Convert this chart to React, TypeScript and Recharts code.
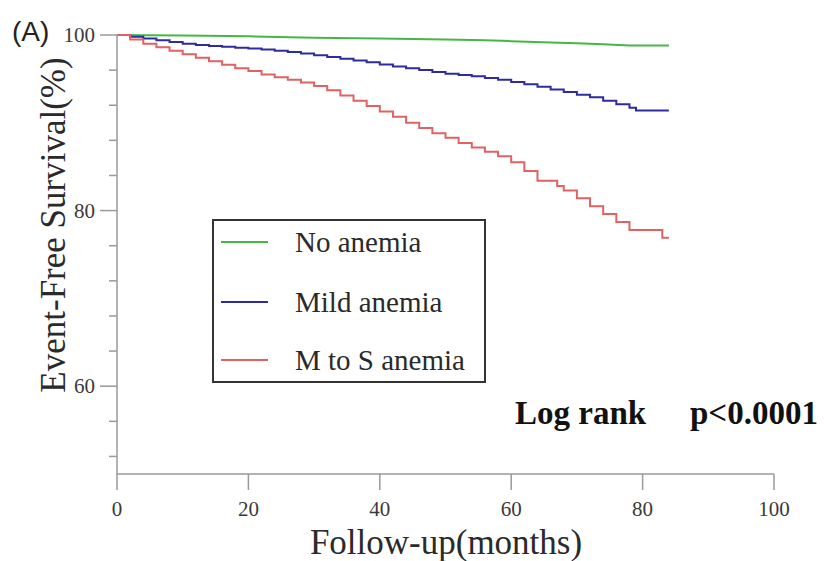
import React from 'react';
import { LineChart, Line, XAxis, YAxis, Legend } from 'recharts';

const xTicks = [0, 20, 40, 60, 80, 100];
const yTicks = [52, 56, 60, 64, 68, 72, 76, 80, 84, 88, 92, 96, 100];
const yLabeled = [60, 80, 100];

const noAnemiaMonths = [0, 10, 20, 30, 40, 50, 56, 60, 66, 70, 74, 78, 84];
const noAnemiaSurv = [100, 99.95, 99.85, 99.7, 99.6, 99.5, 99.4, 99.3, 99.15, 99.05, 98.95, 98.8, 98.8];

const mildMonths = [0, 2, 4, 6, 8, 10, 12, 14, 16, 18, 20, 22, 24, 26, 28, 30, 32, 34, 36, 38, 40, 42, 44, 46, 48, 50, 52, 54, 56, 58, 60, 62, 64, 66, 68, 70, 72, 74, 76, 78, 79, 84];
const mildSurv = [100, 99.8, 99.6, 99.4, 99.2, 99.0, 98.85, 98.75, 98.65, 98.55, 98.45, 98.35, 98.2, 98.05, 97.9, 97.7, 97.5, 97.3, 97.1, 96.9, 96.65, 96.4, 96.2, 96.0, 95.8, 95.6, 95.45, 95.3, 95.1, 94.9, 94.65, 94.4, 94.1, 93.8, 93.5, 93.2, 92.9, 92.5, 92.1, 91.7, 91.4, 91.4];

const severeMonths = [0, 2, 4, 6, 8, 10, 12, 14, 16, 18, 20, 22, 24, 26, 28, 30, 32, 34, 36, 38, 40, 42, 44, 46, 48, 50, 52, 54, 56, 58, 60, 62, 64, 67, 68, 70, 72, 74, 76, 78, 83, 84];
const severeSurv = [100, 99.5, 99.0, 98.6, 98.2, 97.8, 97.4, 97.0, 96.6, 96.2, 95.9, 95.5, 95.2, 94.9, 94.6, 94.2, 93.7, 93.1, 92.5, 91.9, 91.3, 90.7, 90.0, 89.4, 88.8, 88.3, 87.7, 87.2, 86.7, 86.2, 85.5, 84.5, 83.4, 82.8, 82.3, 81.4, 80.5, 79.6, 78.7, 77.8, 76.9, 76.9];

const seriesNames = ['No anemia', 'Mild anemia', 'M to S anemia'];
const seriesKeys = ['none', 'mild', 'severe'];
const seriesColors = ['#44b844', '#2c2ca0', '#e06262'];

const allMonths = Array.from(new Set([...noAnemiaMonths, ...mildMonths, ...severeMonths])).sort((a, b) => a - b);
const lookup = (months: number[], vals: number[], m: number) => {
  const i = months.indexOf(m);
  return i >= 0 ? vals[i] : null;
};
const chartData = allMonths.map((m) => ({
  month: m,
  none: lookup(noAnemiaMonths, noAnemiaSurv, m),
  mild: lookup(mildMonths, mildSurv, m),
  severe: lookup(severeMonths, severeSurv, m),
}));

const SERIF = '"Liberation Serif", "Times New Roman", serif';
const AXIS = '#9a9a9a';
const TXT = '#2a2a2a';

const YTick = (props: any) => {
  const { x, y, payload } = props;
  const labeled = yLabeled.includes(payload.value);
  const len = labeled ? 17 : 8;
  return (
    <g>
      <line x1={x - len} x2={x} y1={y} y2={y} stroke={AXIS} strokeWidth={1.5} />
      {labeled && (
        <text x={x - 22} y={y + 7} textAnchor="end" fontFamily={SERIF} fontSize={21} fill="#3a3a3a">
          {payload.value}
        </text>
      )}
    </g>
  );
};

const XTick = (props: any) => {
  const { x, y, payload } = props;
  return (
    <g>
      <line x1={x} x2={x} y1={y} y2={y + 16} stroke={AXIS} strokeWidth={1.5} />
      <text x={x} y={y + 42} textAnchor="middle" fontFamily={SERIF} fontSize={21} fill="#3a3a3a">
        {payload.value}
      </text>
    </g>
  );
};

const LegendBox = () => {
  const rows = [23, 83, 141];
  return (
    <div
      style={{
        position: 'relative',
        width: 274,
        height: 164,
        border: '2px solid #333',
        boxSizing: 'border-box',
        background: '#fff',
      }}
    >
      <svg width={274} height={164} style={{ position: 'absolute', left: -2, top: -2 }}>
        {rows.map((ry, i) => (
          <g key={i}>
            <line x1={9} x2={56} y1={ry} y2={ry} stroke={seriesColors[i]} strokeWidth={2} />
            <text x={83} y={ry + 10} fontFamily={SERIF} fontSize={29} fill={TXT}>
              {seriesNames[i]}
            </text>
          </g>
        ))}
      </svg>
    </div>
  );
};

export default function App() {
  return (
    <div style={{ position: 'absolute', left: 0, top: 0, width: 836, height: 561, background: '#fff' }}>
      <LineChart
        width={836}
        height={561}
        data={chartData}
        margin={{ top: 35, right: 62, bottom: 86, left: 116 }}
      >
        <XAxis
          type="number"
          dataKey="month"
          domain={[0, 100]}
          ticks={xTicks}
          height={1}
          tickSize={0}
          tickMargin={0}
          tickLine={false}
          tick={<XTick />}
          axisLine={{ stroke: AXIS, strokeWidth: 1.5 }}
        />
        <YAxis
          type="number"
          domain={[50, 100]}
          ticks={yTicks}
          width={1}
          tickSize={0}
          tickMargin={0}
          tickLine={false}
          tick={<YTick />}
          axisLine={{ stroke: AXIS, strokeWidth: 1.5 }}
        />
        <Legend
          layout="vertical"
          align="center"
          verticalAlign="middle"
          content={<LegendBox />}
          wrapperStyle={{ position: 'absolute', left: 212, top: 219, width: 274, height: 164 }}
        />
        <Line dataKey={seriesKeys[0]} name={seriesNames[0]} type="linear" connectNulls stroke={seriesColors[0]} strokeWidth={2} dot={false} isAnimationActive={false} />
        <Line dataKey={seriesKeys[1]} name={seriesNames[1]} type="stepAfter" connectNulls stroke={seriesColors[1]} strokeWidth={2} dot={false} isAnimationActive={false} />
        <Line dataKey={seriesKeys[2]} name={seriesNames[2]} type="stepAfter" connectNulls stroke={seriesColors[2]} strokeWidth={2} dot={false} isAnimationActive={false} />
      </LineChart>
      <svg width={836} height={561} style={{ position: 'absolute', left: 0, top: 0, pointerEvents: 'none' }}>
        <text x={12} y={41} fontFamily='"Liberation Sans", Arial, sans-serif' fontSize={28} fill="#222">(A)</text>
        <text
          x={65}
          y={225}
          textAnchor="middle"
          transform="rotate(-90, 65, 225)"
          fontFamily={SERIF}
          fontSize={35}
          fill={TXT}
        >
          Event-Free Survival(%)
        </text>
        <text x={446} y={554} textAnchor="middle" fontFamily={SERIF} fontSize={35} fill={TXT}>
          Follow-up(months)
        </text>
        <text x={515} y={424} fontFamily={SERIF} fontSize={33} fontWeight="bold" fill="#111">Log rank</text>
        <text x={690} y={424} fontFamily={SERIF} fontSize={33} fontWeight="bold" fill="#111">p&lt;0.0001</text>
      </svg>
    </div>
  );
}
